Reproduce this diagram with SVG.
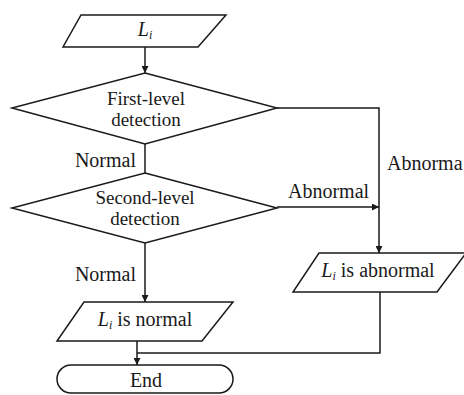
<svg xmlns="http://www.w3.org/2000/svg" width="464" height="395" viewBox="0 0 464 395" font-family="'Liberation Serif', 'Times New Roman', serif">
<defs>
<marker id="arr" viewBox="0 0 10 10" refX="10" refY="5" markerWidth="7" markerHeight="7" markerUnits="userSpaceOnUse" orient="auto">
<path d="M0,0 L10,5 L0,10 z" fill="#1a1a1a"/>
</marker>
</defs>
<style>
.s{fill:#fff;stroke:#1a1a1a;stroke-width:1.5}
.c{fill:none;stroke:#1a1a1a;stroke-width:1.5}
text{font-family:'Liberation Serif',serif;font-size:20px;fill:#1a1a1a}
.d{font-size:19px}
.m{text-anchor:middle}
.i{font-style:italic}
</style>
<rect width="464" height="395" fill="#fff"/>
<g id="connectors">
<path class="c" d="M145,47 V73" marker-end="url(#arr)"/>
<path class="c" d="M145,144 V173"/>
<path class="c" d="M145,243 V302" marker-end="url(#arr)"/>
<path class="c" d="M277,108 H379 V253" marker-end="url(#arr)"/>
<path class="c" d="M277,207 H379" marker-end="url(#arr)"/>
<path class="c" d="M380,292 V353 H137"/>
<path class="c" d="M137,341 V365" marker-end="url(#arr)"/>
<text x="136" y="167" text-anchor="end">Normal</text>
<text x="136" y="281" text-anchor="end">Normal</text>
<text x="288" y="198">Abnormal</text>
<text x="387" y="170">Abnorma</text>
</g>
<g id="input">
<polygon class="s" points="81,15 226,15 198,47 63,47"/>
<text x="145" y="36" class="m"><tspan class="i">L</tspan><tspan class="i" font-size="12" dy="3">i</tspan></text>
</g>
<g id="first-level">
<polygon class="s" points="145,73 277,108 145,144 12,108"/>
<text x="146" y="105" class="m d">First-level</text>
<text x="146" y="126" class="m d">detection</text>
</g>
<g id="second-level">
<polygon class="s" points="145,173 277,208 145,243 12,208"/>
<text x="145" y="204" class="m d">Second-level</text>
<text x="145" y="225" class="m d">detection</text>
</g>
<g id="normal">
<polygon class="s" points="84,302 233,302 202,341 57,341"/>
<text x="145" y="326" class="m"><tspan class="i">L</tspan><tspan class="i" font-size="12" dy="3">i</tspan><tspan dy="-3"> is normal</tspan></text>
</g>
<g id="abnormal">
<polygon class="s" points="319,253 466,253 437,292 293,292"/>
<text x="378" y="277" class="m"><tspan class="i">L</tspan><tspan class="i" font-size="12" dy="3">i</tspan><tspan dy="-3"> is abnormal</tspan></text>
</g>
<g id="end">
<rect class="s" x="57" y="365" width="176" height="28" rx="14" ry="14"/>
<text x="146" y="387" class="m">End</text>
</g>
</svg>
